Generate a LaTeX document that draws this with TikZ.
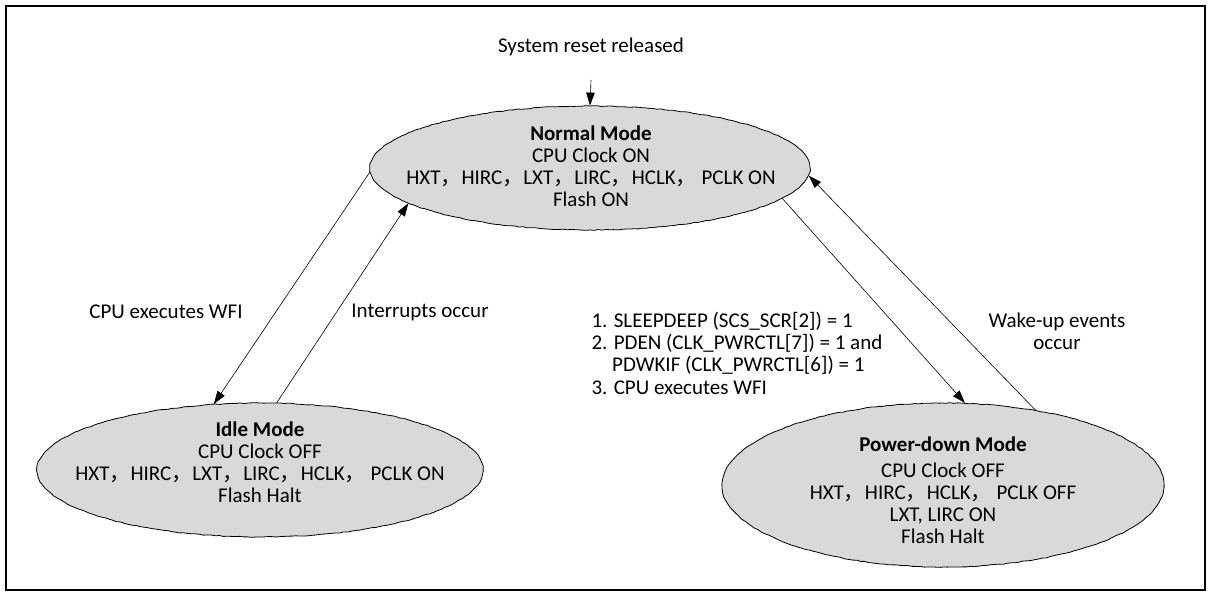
\documentclass[tikz,border=0pt]{standalone}
\usepackage{fontspec}
\setmainfont{Carlito}
\newfontfamily\cjk{Noto Sans CJK SC}
\usetikzlibrary{arrows.meta,shapes.geometric,decorations.pathmorphing}
\newcommand{\fwc}{{\cjk ，}}

\begin{document}
\begin{tikzpicture}[x=1pt,y=-1pt,
    every node/.style={font=\fontsize{21}{22}\selectfont},
    mode/.style={draw, ellipse, fill=black!15, inner sep=0pt, line width=0.8pt,
      decorate, decoration={random steps, segment length=4pt, amplitude=0.4pt}},
    arr/.style={-{Triangle[length=13pt,width=8.5pt]}, line width=0.6pt},
    lbl/.style={align=center}]
\useasboundingbox (0,0) rectangle (1211,593);
\draw[line width=2pt] (6,6) rectangle (1205,590);

% modes
\node[mode, minimum width=440pt, minimum height=124pt] (normal) at (590,168) {};
\node[mode, minimum width=446pt, minimum height=134pt] (idle) at (260,470) {};
\node[mode, minimum width=442pt, minimum height=164pt] (pd) at (943,485) {};

\node[lbl] (normaltxt) at (591,166)
  {\textbf{Normal Mode}\\ CPU Clock ON\\ HXT\fwc HIRC\fwc LXT\fwc LIRC\fwc HCLK\fwc{} PCLK ON\\ Flash ON};
\node[lbl] (idletxt) at (260,462)
  {\textbf{Idle Mode}\\ CPU Clock OFF\\ HXT\fwc HIRC\fwc LXT\fwc LIRC\fwc HCLK\fwc{} PCLK ON\\ Flash Halt};
\node[lbl] (pdtxt) at (943,490)
  {\textbf{Power-down Mode}\\[4pt] CPU Clock OFF\\ HXT\fwc HIRC\fwc HCLK\fwc{} PCLK OFF\\ LXT, LIRC ON\\ Flash Halt};

% labels
\node (reset) at (591,47) {System reset released};
\coordinate (rst) at (591,80);
\node[lbl] (wfi) at (166,312) {CPU executes WFI};
\node[lbl] (irq) at (420,312) {Interrupts occur};
\node[anchor=west, align=left, font=\fontsize{21}{22.3}\selectfont] (cond) at (588,353)
  {1. SLEEPDEEP (SCS\_SCR[2]) = 1\\ 2. PDEN (CLK\_PWRCTL[7]) = 1 and\\ \hspace*{0.985em}PDWKIF (CLK\_PWRCTL[6]) = 1\\ 3. CPU executes WFI};
\node[lbl] (wake) at (1057,331) {Wake-up events\\ occur};

% transitions
\draw[arr] (rst) -- (normal.north);
\draw[arr] (normal.181) -- (idle.125);
\draw[arr] (idle.76) -- (normal.191);
\draw[arr] (normal.351) -- (pd.75);
\draw[arr] (pd.39) -- (normal.358);
\end{tikzpicture}
\end{document}
